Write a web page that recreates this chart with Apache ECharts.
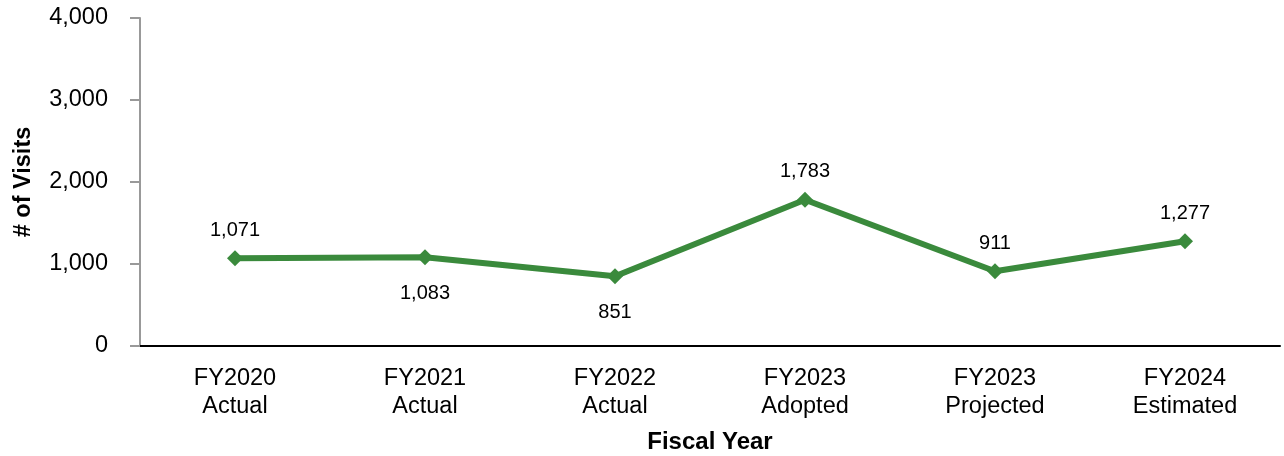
<!DOCTYPE html>
<html>
<head>
<meta charset="utf-8">
<script src="https://cdn.jsdelivr.net/npm/echarts@6/dist/echarts.min.js"></script>
<style>html,body{margin:0;padding:0;background:#fff}#c{width:1284px;height:456px}</style>
</head>
<body>
<div id="c"></div>
<script>
const categories = ["FY2020\nActual", "FY2021\nActual", "FY2022\nActual", "FY2023\nAdopted", "FY2023\nProjected", "FY2024\nEstimated"];
const visits = [1071, 1083, 851, 1783, 911, 1277];
const labelSides = ["top", "bottom", "bottom", "top", "top", "top"];

const chart = echarts.init(document.getElementById('c'), null, {renderer: 'canvas'});
const font = '"Liberation Sans", Arial, sans-serif';
chart.setOption({
  animation: false,
  grid: {left: 140, right: 4, top: 18, bottom: 110, containLabel: false, outerBoundsMode: 'none'},
  xAxis: {
    type: 'category',
    data: categories,
    boundaryGap: true,
    name: 'Fiscal Year',
    nameLocation: 'middle',
    nameGap: 84,
    nameTextStyle: {fontFamily: font, fontSize: 24, fontWeight: 'bold', color: '#000'},
    axisLine: {lineStyle: {color: '#000', width: 2}},
    axisTick: {alignWithLabel: true, length: 11, lineStyle: {color: '#999', width: 2}},
    axisLabel: {fontFamily: font, fontSize: 23.5, color: '#000', margin: 19, lineHeight: 28, interval: 0}
  },
  yAxis: {
    type: 'value',
    min: 0, max: 4000, interval: 1000,
    name: '# of Visits',
    nameLocation: 'middle',
    nameGap: 104,
    nameRotate: 90,
    nameTextStyle: {fontFamily: font, fontSize: 23.5, fontWeight: 'bold', color: '#000'},
    axisLine: {show: true, lineStyle: {color: '#999', width: 2}},
    axisTick: {show: true, length: 10, lineStyle: {color: '#999', width: 2}},
    splitLine: {show: false},
    axisLabel: {fontFamily: font, fontSize: 23.5, color: '#000', margin: 32,
      formatter: v => v.toLocaleString('en-US')}
  },
  series: [{
    type: 'line',
    data: visits.map((v, i) => ({
      value: v,
      label: {position: labelSides[i], distance: labelSides[i] === 'top' ? 10 : 18}
    })),
    symbol: 'diamond',
    symbolSize: 16,
    lineStyle: {color: '#3a8a3c', width: 6},
    itemStyle: {color: '#3a8a3c'},
    label: {show: true, fontFamily: font, fontSize: 20, color: '#000',
      formatter: p => p.value.toLocaleString('en-US')}
  }]
});
</script>
</body>
</html>
